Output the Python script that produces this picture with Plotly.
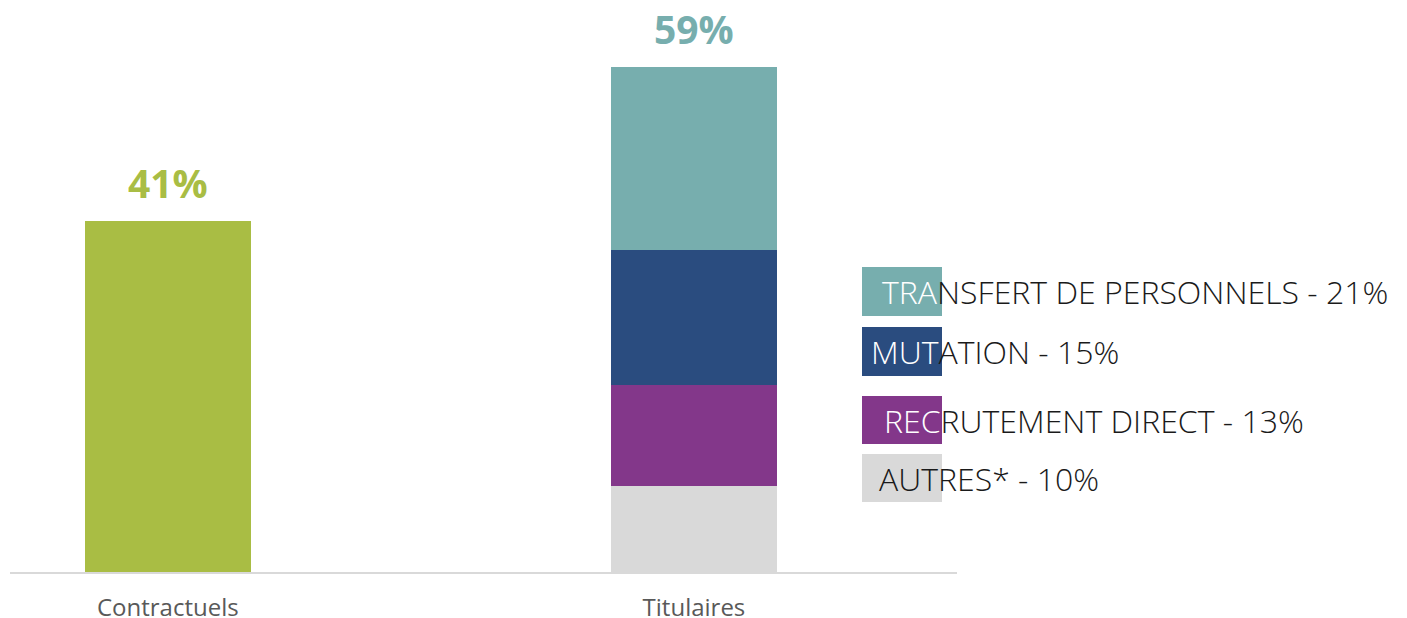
import plotly.graph_objects as go

# données
categories = ["Contractuels", "Titulaires"]
contractuels_value = 41
totals = [41, 59]
total_labels = ["41%", "59%"]

# décomposition des titulaires (du bas vers le haut)
titulaires_names = ["AUTRES*", "RECRUTEMENT DIRECT", "MUTATION", "TRANSFERT DE PERSONNELS"]
titulaires_values = [10, 11.9, 15.7, 21.4]
titulaires_pct = ["10%", "13%", "15%", "21%"]

GREEN = "#A9BD44"
TEAL = "#77AEAE"
BLUE = "#2A4C7F"
PURPLE = "#83378A"
GREY = "#D9D9D9"
part_colors = [GREY, PURPLE, BLUE, TEAL]

# la page ajoute 8px de marge autour de la figure
OFF = 8
W, H = 1407 - OFF, 618 - OFF
M_L, M_R, M_T, M_B = 2, 450, 2, 46


def px_x(px):
    # pixel de l'écran -> coordonnée paper
    return (px - OFF - M_L) / (W - M_L - M_R)


def px_y(py):
    return (H - M_B - (py - OFF)) / (H - M_T - M_B)


fig = go.Figure()
fig.add_trace(go.Bar(x=[categories[0]], y=[contractuels_value], marker=dict(color=GREEN, line_width=0),
                     width=0.316, showlegend=False, hoverinfo="skip"))
for name, val, col in zip(titulaires_names, titulaires_values, part_colors):
    fig.add_trace(go.Bar(x=[categories[1]], y=[val], name=name, marker=dict(color=col, line_width=0),
                         width=0.316, showlegend=False))

# totaux au-dessus des barres
for cat, tot, lab, col in zip(categories, totals, total_labels, [GREEN, TEAL]):
    fig.add_annotation(x=cat, y=tot, text=f"<b>{lab}</b>", showarrow=False,
                       yanchor="bottom", yshift=10,
                       font=dict(family="Open Sans", size=39, color=col))

# légende personnalisée (carré + texte qui déborde sur le carré)
legend_rows = [  # (index, haut, bas, début texte, nb lettres en blanc)
    (3, 267, 316, 880, 3),
    (2, 327, 376, 869, 3),
    (1, 396, 444, 882, 3),
    (0, 454, 502, 877, 3),
]
for idx, top, bot, tx, nwhite in legend_rows:
    fig.add_shape(type="rect", xref="paper", yref="paper",
                  x0=px_x(862), x1=px_x(942), y0=px_y(bot), y1=px_y(top),
                  fillcolor=part_colors[idx], line_width=0, layer="above")
    name = titulaires_names[idx]
    head_col = "#1a1a1a" if idx == 0 else "white"
    txt = (f"<span style='color:{head_col}'>{name[:nwhite]}</span>"
           f"{name[nwhite:]} - {titulaires_pct[idx]}")
    fig.add_annotation(xref="paper", yref="paper", x=px_x(tx), y=px_y((top + bot) / 2),
                       xanchor="left", yanchor="middle", text=txt, showarrow=False,
                       font=dict(family="Open Sans", size=32, color="#1a1a1a", weight=300))

fig.update_layout(
    width=W, height=H,
    margin=dict(l=M_L, r=M_R, t=M_T, b=M_B, autoexpand=False),
    barmode="stack",
    plot_bgcolor="white", paper_bgcolor="white",
    xaxis=dict(range=[-0.3, 1.5], showgrid=False, showline=True, linecolor=GREY, linewidth=2,
               ticks="", ticklabelstandoff=13, automargin=False,
               tickfont=dict(family="Open Sans", size=24, color="#595959")),
    yaxis=dict(range=[0, 65.66], visible=False, automargin=False),
)

fig.write_html("out.html")
